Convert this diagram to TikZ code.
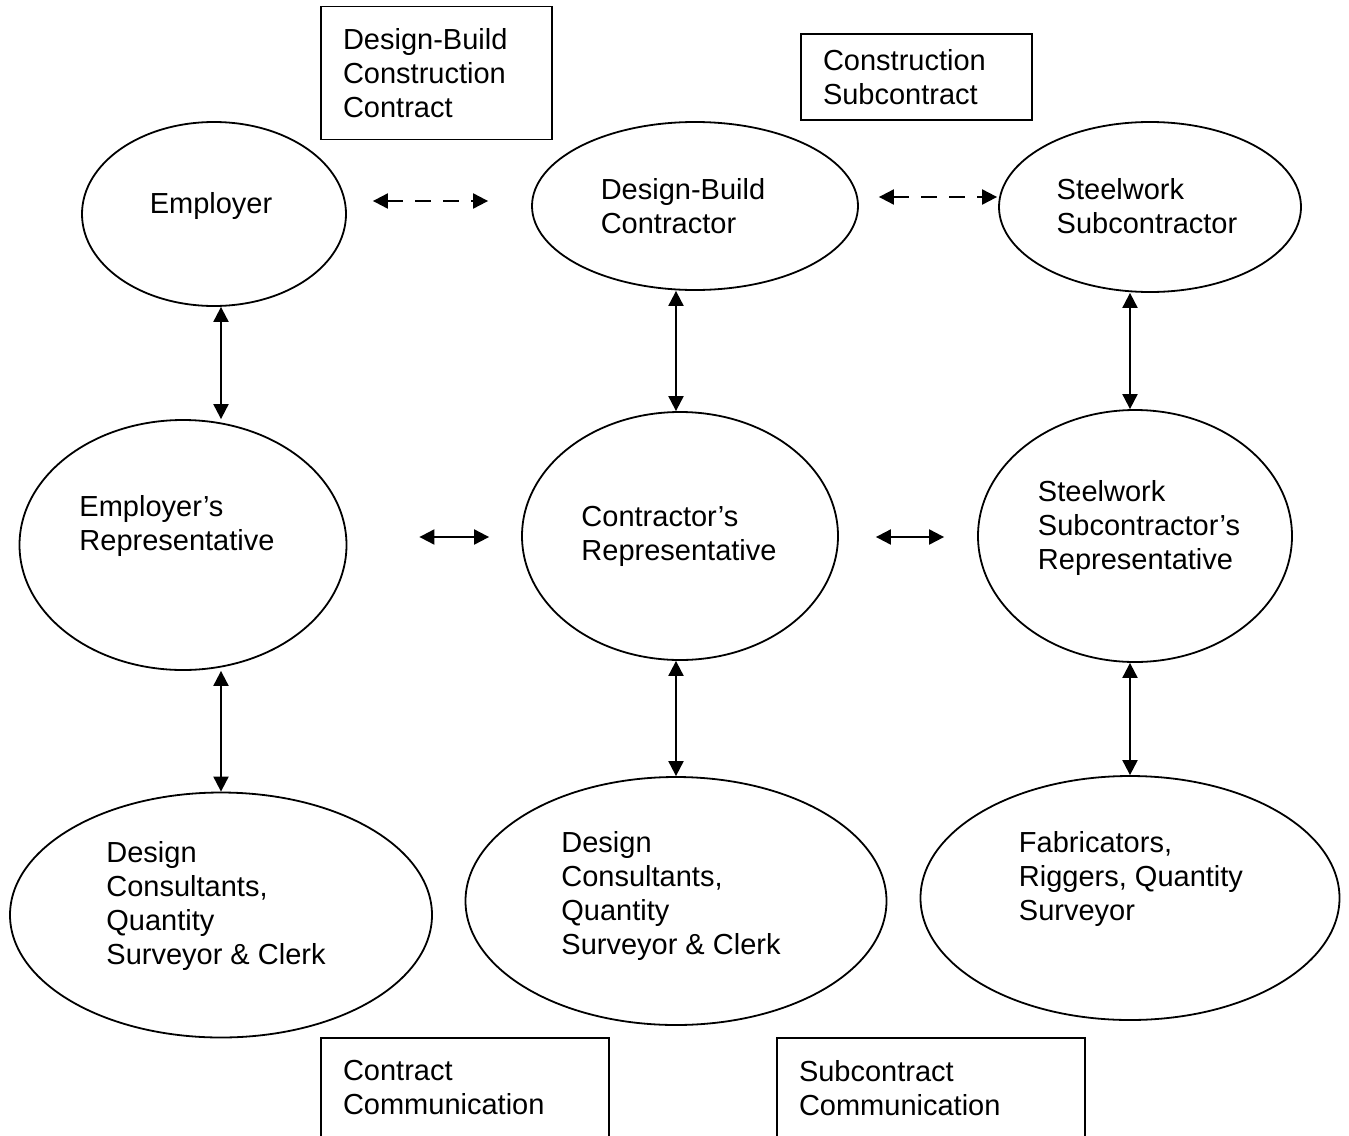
\documentclass[tikz,border=0pt]{standalone}
\usepackage{fontspec}
\setmainfont{Liberation Sans}
\usetikzlibrary{shapes.geometric,arrows.meta,calc}

\tikzset{
  bubble/.style={ellipse, draw, line width=0.9pt, inner sep=0pt},
  words/.style={inner sep=0pt, align=left,
    font=\fontsize{14.5pt}{17pt}\selectfont},
  tag/.style={rectangle, draw, line width=0.9pt, inner xsep=11pt, align=left,
    font=\fontsize{14.5pt}{17pt}\selectfont},
  link/.style={line width=1pt,
    {Triangle[length=7.5pt,width=7.5pt]}-{Triangle[length=7.5pt,width=7.5pt]}},
  dashlink/.style={link, dash pattern=on 8pt off 6pt},
}

\begin{document}
\begin{tikzpicture}[x=0.5pt,y=-0.5pt]

\path[use as bounding box, clip] (0,0) rectangle (1349,1135);

% top row
\node[bubble, minimum width=132pt, minimum height=92pt] (emp) at (214,214) {};
\node[bubble, minimum width=163pt, minimum height=84pt] (dbc) at (695,206) {};
\node[bubble, minimum width=151pt, minimum height=85pt] (ssub) at (1150,207) {};

% representatives
\node[bubble, minimum width=163.5pt, minimum height=125pt] (emprep) at (183,545) {};
\node[bubble, minimum width=158pt, minimum height=124pt] (crep) at (680,536) {};
\node[bubble, minimum width=157pt, minimum height=126pt] (srep) at (1135,536) {};

% bottom row
\node[bubble, minimum width=211pt, minimum height=122.5pt] (empcons) at (221,915) {};
\node[bubble, minimum width=210.5pt, minimum height=124pt] (dcons) at (676,901) {};
\node[bubble, minimum width=209.5pt, minimum height=122pt] (fab) at (1130,898) {};

% texts in the ellipses
\node[words] (emp-t) at ($(emp)+(-3,-8)$) {Employer};
\node[words] (dbc-t) at ($(dbc)+(-12,0)$) {Design-Build\\Contractor};
\node[words] (ssub-t) at ($(ssub)+(-3,-1)$) {Steelwork\\Subcontractor};
\node[words] (emprep-t) at ($(emprep)+(-6,-19)$) {Employer's\\Representative};
\node[words] (crep-t) at ($(crep)+(-1,0)$) {Contractor's\\Representative};
\node[words] (srep-t) at ($(srep)+(4,-8)$) {Steelwork\\Subcontractor's\\Representative};
\node[words] (empcons-t) at ($(empcons)+(-5,-9)$) {Design\\Consultants,\\Quantity\\Surveyor \& Clerk};
\node[words] (dcons-t) at ($(dcons)+(-5,-5)$) {Design\\Consultants,\\Quantity\\Surveyor \& Clerk};
\node[words] (fab-t) at ($(fab)+(1,-19)$) {Fabricators,\\Riggers, Quantity\\Surveyor};

% legend boxes
\node[tag, text width=93.5pt, minimum height=66.5pt] (dbcc) at (436.5,73) {Design-Build\\Construction\\Contract};
\node[tag, text width=93.5pt, minimum height=43pt] (csub) at (916.5,77) {Construction\\Subcontract};
\node[tag, text width=122pt, minimum height=50pt] (ccom) at (465,1088) {Contract\\Communication};
\node[tag, text width=132pt, minimum height=50pt] (scom) at (931,1088) {Subcontract\\Communication};

% contracts
\draw[dashlink] ($(emp.east)+(26,-13)$) -- ($(dbc.west)+(-43,-5)$);
\draw[dashlink] ($(dbc.east)+(20,-9)$) -- ($(ssub.west)+(-1,-10)$);

% communication
\draw[link] ($(emprep.east)+(72,-8)$) -- ($(crep.west)+(-32,1)$);
\draw[link] ($(crep.east)+(37,1)$) -- ($(srep.west)+(-33,1)$);

\foreach \a/\b/\c in {emp/emprep/empcons, dbc/crep/dcons, ssub/srep/fab}
{
    \draw[link] (\a.south -| \c) -- (\b.north -| \c);
    \draw[link] (\b.south -| \c) -- (\c.north);
}

\end{tikzpicture}
\end{document}
